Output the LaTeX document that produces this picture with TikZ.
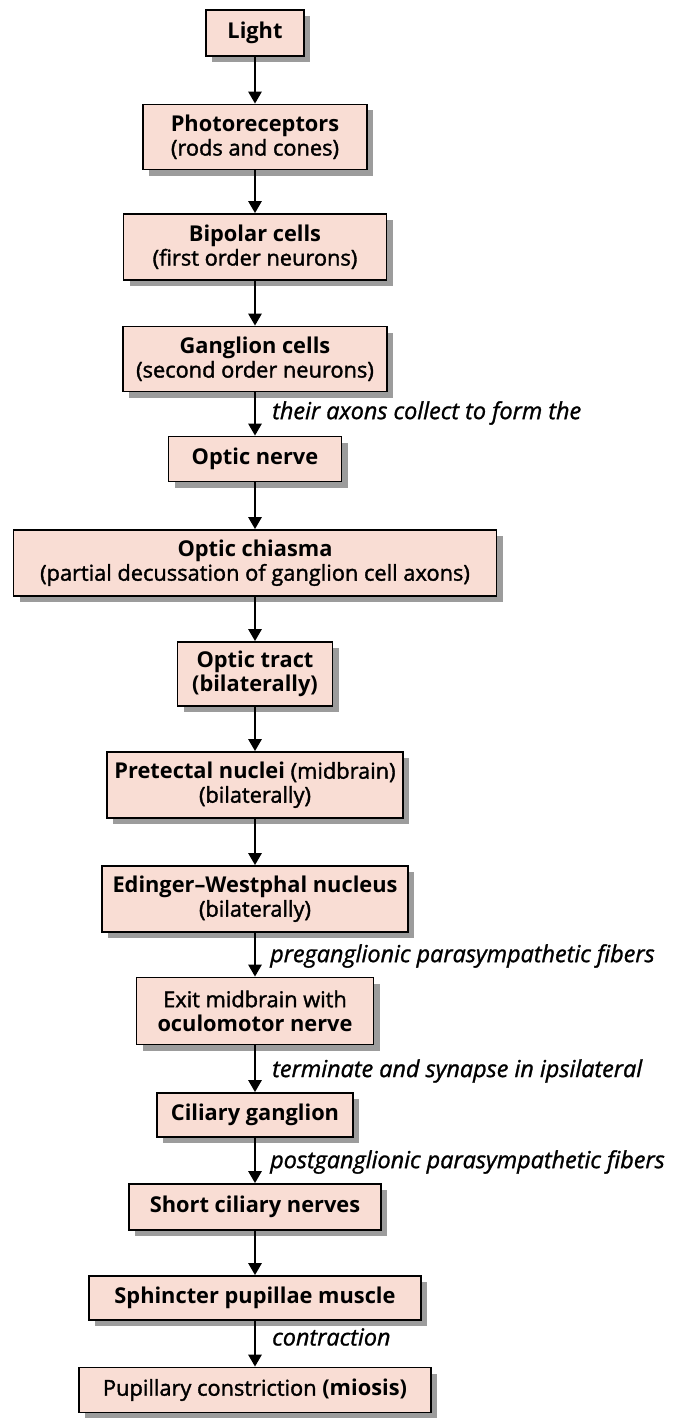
\documentclass[tikz,border=0pt]{standalone}
\usepackage{fontspec}
\setmainfont{Open Sans}
\newfontfamily\medfont{Open Sans}[FakeBold=1.6]
\newfontfamily\notefont{Open Sans Italic}[FakeBold=1.2]
\usetikzlibrary{shadows,arrows.meta}
\definecolor{boxfill}{HTML}{F9DDD4}
\definecolor{shadowgray}{HTML}{9C9C9C}
\newcommand{\med}[1]{{\medfont #1}}
\begin{document}
\begin{tikzpicture}[x=1pt,y=-1pt,
  stepbox/.style={draw=black, line width=1.7pt, fill=boxfill, inner sep=0pt,
    align=center, font=\fontsize{21.8}{24}\selectfont,
    drop shadow={shadow xshift=6pt, shadow yshift=-6pt, fill=shadowgray, opacity=1}},
  arr/.style={line width=2.6pt, -{Triangle[length=12pt,width=13pt]}},
  note/.style={anchor=west, inner sep=0pt, font=\fontsize{23.4}{26}\notefont}]
\useasboundingbox (0,0) rectangle (673,1418);

% chain of boxes
\node[stepbox, minimum width=98pt,  minimum height=46pt] (L)  at (255,33)   {\bfseries Light};
\node[stepbox, minimum width=224pt, minimum height=65pt] (P)  at (255,137)  {\bfseries Photoreceptors\\\med{(rods and cones)}};
\node[stepbox, minimum width=263pt, minimum height=66pt] (B)  at (255,247)  {\bfseries Bipolar cells\\\med{(first order neurons)}};
\node[stepbox, minimum width=264pt, minimum height=65pt] (G)  at (255,359)  {\bfseries Ganglion cells\\\med{(second order neurons)}};
\node[stepbox, minimum width=173pt, minimum height=45pt] (ON) at (255,459)  {\bfseries Optic nerve};
\node[stepbox, minimum width=483pt, minimum height=66pt] (OC) at (255,563)  {\bfseries Optic chiasma\\\med{(partial decussation of ganglion cell axons)}};
\node[stepbox, minimum width=155pt, minimum height=64pt] (OT) at (255,674)  {\bfseries Optic tract\\\bfseries (bilaterally)};
\node[stepbox, minimum width=296pt, minimum height=66pt] (PN) at (255,785)  {\textbf{Pretectal nuclei} \med{(midbrain)}\\\med{(bilaterally)}};
\node[stepbox, minimum width=306pt, minimum height=66pt] (EW) at (255,899)  {\bfseries Edinger–Westphal nucleus\\\med{(bilaterally)}};
\node[stepbox, minimum width=237pt, minimum height=67pt] (EX) at (255,1011) {\med{Exit midbrain with}\\\bfseries oculomotor nerve};
\node[stepbox, minimum width=196pt, minimum height=44pt] (CG) at (255,1115) {\bfseries Ciliary ganglion};
\node[stepbox, minimum width=252pt, minimum height=46pt] (SC) at (255,1207) {\bfseries Short ciliary nerves};
\node[stepbox, minimum width=332pt, minimum height=44pt] (SP) at (255,1298) {\bfseries Sphincter pupillae muscle};
\node[stepbox, minimum width=352pt, minimum height=45pt] (PC) at (255,1390) {\med{Pupillary constriction} \textbf{(miosis)}};

% connectors
\draw[arr] (L)  -- (P);
\draw[arr] (P)  -- (B);
\draw[arr] (B)  -- (G);
\draw[arr] (G)  -- (ON);
\draw[arr] (ON) -- (OC);
\draw[arr] (OC) -- (OT);
\draw[arr] (OT) -- (PN);
\draw[arr] (PN) -- (EW);
\draw[arr] (EW) -- (EX);
\draw[arr] (EX) -- (CG);
\draw[arr] (CG) -- (SC);
\draw[arr] (SC) -- (SP);
\draw[arr] (SP) -- (PC);

% connector annotations
\node[note] (n1) at (272,413)  {their axons collect to form the};
\node[note] (n2) at (270,956)  {preganglionic parasympathetic fibers};
\node[note] (n3) at (272,1071) {terminate and synapse in ipsilateral};
\node[note] (n4) at (270,1162) {postganglionic parasympathetic fibers};
\node[note] (n5) at (272,1337) {contraction};
\end{tikzpicture}
\end{document}
